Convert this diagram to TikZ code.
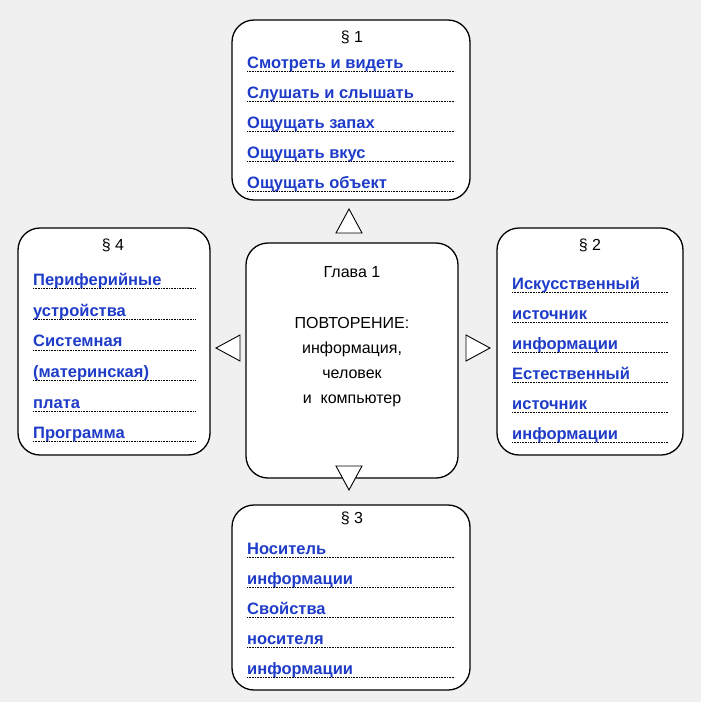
\documentclass[tikz,border=0pt]{standalone}
\usepackage{fontspec}
\setmainfont{Liberation Sans}
\definecolor{inkblue}{RGB}{30,60,200}
\tikzset{
  card/.style={draw,line width=1.3pt,rounded corners=22pt,fill=white},
  head/.style={font=\fontsize{16}{16}\selectfont},
  item/.style={anchor=base west,inner sep=0pt,text=inkblue,font=\bfseries\fontsize{16.5}{16.5}\selectfont},
  dots/.style={densely dotted,line width=0.6pt},
  arrowmark/.style={draw,line width=0.9pt,fill=white}
}
\begin{document}
\begin{tikzpicture}[x=1pt,y=-1pt]
\useasboundingbox (0,0) rectangle (701,702);
\fill[black!6] (0,0) rectangle (701,702);

% boxes
\draw[card] (232,20) rectangle (470,200);
\draw[card] (246,243) rectangle (458,478);
\draw[card] (18,228) rectangle (210,455);
\draw[card] (497,228) rectangle (683,455);
\draw[card] (232,505) rectangle (470,690);

% triangles
\draw[arrowmark] (336,233) -- (362,233) -- (349,209) -- cycle;
\draw[arrowmark] (240,335) -- (240,361) -- (216,348) -- cycle;
\draw[arrowmark] (466,335) -- (466,361) -- (490,348) -- cycle;
\draw[arrowmark] (336,466) -- (362,466) -- (349,490) -- cycle;

% headings
\node[head] (h1) at (352,37) {\S\ 1};
\node[head] (h4) at (113,245) {\S\ 4};
\node[head] (h2) at (590,245) {\S\ 2};
\node[head] (h3) at (352,518) {\S\ 3};

% centre
\node[head] (ch) at (352,272) {Глава 1};
\node[head,align=center] (cm) at (352,362) {ПОВТОРЕНИЕ:\\[9pt]информация,\\[9pt]человек\\[9pt]и\ \ компьютер};

% items
\foreach \t [count=\i] in {Смотреть и видеть,Слушать и слышать,Ощущать запах,Ощущать вкус,Ощущать объект}
  {\node[item] (a\i) at (247,{38+30*\i}) {\t};
   \draw[dots] (247,{41+30*\i}) -- (455,{41+30*\i});}
\foreach \t [count=\i] in {Периферийные,устройства,Системная,(материнская),плата,Программа}
  {\node[item] (d\i) at (33,{255+30.6*\i}) {\t};
   \draw[dots] (33,{258+30.6*\i}) -- (195,{258+30.6*\i});}
\foreach \t [count=\i] in {Искусственный,источник,информации,Естественный,источник,информации}
  {\node[item] (b\i) at (512,{259+30*\i}) {\t};
   \draw[dots] (512,{262+30*\i}) -- (668,{262+30*\i});}
\foreach \t [count=\i] in {Носитель,информации,Свойства,носителя,информации}
  {\node[item] (c\i) at (247,{524+30*\i}) {\t};
   \draw[dots] (247,{527+30*\i}) -- (455,{527+30*\i});}
\end{tikzpicture}
\end{document}
